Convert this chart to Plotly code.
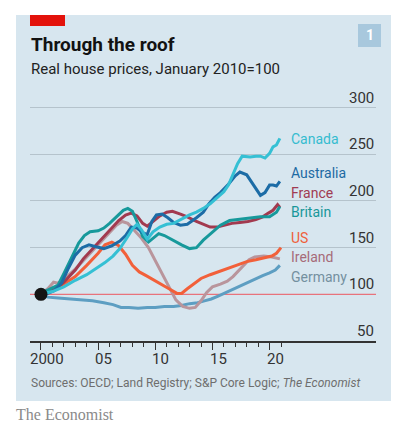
import plotly.graph_objects as go

# ---------------- data ----------------
canada_years = [2000, 2001, 2002, 2003, 2004, 2005, 2005.6, 2006.3, 2006.9, 2007.5, 2008, 2008.4, 2008.8, 2009.3,
                2009.8, 2010.4, 2011, 2011.6, 2012.2, 2013, 2013.6, 2014.2, 2014.8, 2015.4, 2016, 2016.4, 2016.8,
                2017.2, 2017.6, 2018.3, 2018.8, 2019.2, 2019.6, 2020, 2020.3, 2020.6, 2020.9]
canada_values = [100, 103, 108, 115, 121, 129, 134, 141, 149, 160, 170, 175, 169, 159,
                 167, 172, 175, 176, 180, 185, 188, 192, 197, 203, 210, 217, 228,
                 240, 248, 247, 248, 248, 246, 251, 258, 260, 267]

australia_years = [2000, 2000.6, 2001.2, 2001.8, 2002.4, 2003, 2003.6, 2004.2, 2004.8, 2005.5, 2006.2, 2006.9,
                   2007.4, 2007.9, 2008.4, 2008.9, 2009.3, 2009.7, 2010.1, 2010.6, 2011.1, 2011.6, 2012.2, 2012.8,
                   2013.6, 2014.2, 2014.7, 2015.2, 2015.7, 2016.4, 2017.0, 2017.4, 2018, 2018.6, 2019.2, 2019.6,
                   2020, 2020.3, 2020.6, 2020.9]
australia_values = [100, 101, 104, 112, 128, 142, 150, 153, 151, 149, 152, 157,
                    163, 172, 171, 166, 164, 178, 185, 186, 182, 177, 174, 175,
                    182, 188, 197, 204, 209, 218, 227, 231, 228, 217, 206, 209,
                    217, 217, 216, 221]

france_years = [2000, 2000.5, 2001, 2001.5, 2002, 2002.5, 2003, 2003.7, 2004.3, 2005, 2005.6, 2006.2, 2006.8,
                2007.4, 2007.9, 2008.4, 2008.9, 2009.3, 2009.8, 2010.4, 2011, 2011.5, 2012.2, 2012.8, 2013.6,
                2014.2, 2014.8, 2015.4, 2016, 2016.7, 2017.4, 2018.1, 2018.8, 2019.4, 2019.9, 2020.3, 2020.7, 2020.9]
france_values = [100, 101, 104, 108, 113, 119, 126, 138, 146, 155, 163, 171, 179,
                 185, 187, 184, 176, 173, 178, 184, 188, 189, 186, 183, 178,
                 175, 172, 172, 174, 176, 177, 178, 180, 183, 187, 190, 196, 193]

britain_years = [2000, 2000.5, 2001, 2001.5, 2002, 2002.7, 2003.3, 2003.8, 2004.3, 2005, 2005.5, 2006, 2006.6,
                 2007.2, 2007.6, 2008, 2008.4, 2008.9, 2009.4, 2009.8, 2010.3, 2010.8, 2011.5, 2012.3, 2013,
                 2013.6, 2014.2, 2015, 2015.7, 2016.5, 2017.3, 2018, 2019.2, 2020, 2020.6, 2020.9]
britain_values = [100, 104, 107, 110, 122, 140, 155, 163, 167, 168, 171, 176, 183,
                  190, 192, 189, 178, 162, 156, 160, 165, 163, 158, 153, 149,
                  150, 158, 166, 174, 179, 180, 181, 183, 183, 188, 194]

us_years = [2000, 2001, 2002, 2003, 2004, 2005, 2005.6, 2006.2, 2006.8, 2007.4, 2008, 2008.6, 2009.2, 2009.8,
            2010.5, 2011.2, 2011.9, 2012.3, 2012.8, 2013.3, 2014, 2014.8, 2015.5, 2016.4, 2017.2, 2018, 2018.8,
            2019.5, 2020.2, 2020.6, 2021]
us_values = [100, 105, 111, 119, 131, 144, 153, 156, 152, 143, 131, 124, 120, 116,
             111, 106, 101, 101, 106, 111, 117, 121, 124, 128, 132, 135, 137,
             139, 141, 144, 150]

ireland_years = [2000, 2000.6, 2001.1, 2001.5, 2002, 2003, 2004, 2005, 2006, 2006.6, 2007.1, 2007.6, 2008.2,
                 2008.8, 2009.4, 2010, 2010.6, 2011.2, 2011.8, 2012.4, 2013, 2013.5, 2014, 2014.5, 2015, 2015.7,
                 2016.3, 2016.8, 2017.5, 2018.2, 2018.7, 2019.5, 2020.2, 2020.6, 2020.9]
ireland_values = [100, 106, 113, 112, 116, 127, 140, 153, 166, 174, 178, 176, 168,
                  160, 150, 136, 121, 107, 94, 87, 85, 86, 93, 102, 108, 111,
                  114, 119, 128, 137, 140, 141, 140, 139, 138]

germany_years = [2000, 2000.6, 2001.5, 2002.5, 2003.5, 2004.5, 2005.5, 2006.3, 2007, 2007.7, 2008.5, 2009.3,
                 2010, 2010.8, 2011.6, 2012.3, 2013, 2013.7, 2014.3, 2014.9, 2015.5, 2016.2, 2016.8, 2017.5,
                 2018.2, 2018.8, 2019.4, 2020, 2020.5, 2020.9]
germany_values = [100, 97, 96, 95, 94, 93, 91, 89, 86, 86, 85, 86,
                  86, 87, 87, 88, 90, 91, 93, 95, 98, 102, 106, 110,
                  114, 117, 120, 123, 126, 131]

series_names = ["Germany", "Ireland", "US", "France", "Britain", "Australia", "Canada"]
series_years = [germany_years, ireland_years, us_years, france_years, britain_years, australia_years, canada_years]
series_values = [germany_values, ireland_values, us_values, france_values, britain_values, australia_values, canada_values]

# label anchor values (where each country name sits on the right)
label_values = {"Canada": 266, "Australia": 229.6, "France": 208.2, "Britain": 188,
                "US": 160.6, "Ireland": 139.6, "Germany": 118.9}

y_ticks = [50, 100, 150, 200, 250, 300]
x_major = [2000, 2005, 2010, 2015, 2020]
x_labels = ["2000", "05", "10", "15", "20"]
x_minor = list(range(2000, 2022))

# ---------------- styles ----------------
line_colors = {"Canada": "#35c0d4", "Australia": "#1c6ca6", "France": "#a23a4f", "Britain": "#17999b",
               "US": "#f2603a", "Ireland": "#b9959c", "Germany": "#5d9ec2"}
text_colors = {"Canada": "#35bccf", "Australia": "#1d6aa3", "France": "#a03b52", "Britain": "#17979a",
               "US": "#ef5f3c", "Ireland": "#a66b79", "Germany": "#74909f"}

PANEL = "#d7e6ef"
W, H = 403, 442
L, R, T, B = 30, 27, 98, 101
PW, PH = W - L - R, H - T - B


def px_x(px):
    return (px - L) / PW


def px_y(py):
    return (H - B - py) / PH


fig = go.Figure()

for name, xs, ys in zip(series_names, series_years, series_values):
    fig.add_trace(go.Scatter(x=xs, y=ys, mode="lines", name=name,
                             line=dict(color=line_colors[name], width=3),
                             hoverinfo="skip", showlegend=False))

fig.add_trace(go.Scatter(x=[germany_years[0]], y=[germany_values[0]], mode="markers",
                         marker=dict(color="#141414", size=13), hoverinfo="skip", showlegend=False))

shapes = [
    dict(type="rect", xref="paper", yref="paper", x0=px_x(16), x1=px_x(391), y0=px_y(401), y1=px_y(15),
         fillcolor=PANEL, line=dict(width=0), layer="below"),
    dict(type="rect", xref="paper", yref="paper", x0=px_x(30), x1=px_x(65), y0=px_y(26), y1=px_y(15),
         fillcolor="#e3120b", line=dict(width=0), layer="below"),
    dict(type="rect", xref="paper", yref="paper", x0=px_x(358), x1=px_x(381), y0=px_y(47), y1=px_y(24),
         fillcolor="#a8c8dd", line=dict(width=0), layer="below"),
    dict(type="line", xref="paper", yref="y", x0=0, x1=1, y0=100, y1=100,
         line=dict(color="#e8737c", width=1.3), layer="below"),
]

annotations = []
for name in series_names:
    annotations.append(dict(x=2021.7, y=label_values[name], xref="x", yref="y", text=name,
                            showarrow=False, xanchor="left", yanchor="middle",
                            font=dict(family="Roboto", size=14, color=text_colors[name])))

for v in y_ticks:
    annotations.append(dict(x=1, y=v, xref="paper", yref="y", text=str(v), showarrow=False,
                            xanchor="right", yanchor="bottom", yshift=-1,
                            font=dict(family="Roboto", size=15, color="#333333")))

for yr, lab in zip(x_major, x_labels):
    annotations.append(dict(x=yr + 0.5, y=50, xref="x", yref="y", text=lab, showarrow=False,
                            xanchor="center", yanchor="top", yshift=-7,
                            font=dict(family="Roboto", size=15, color="#333333")))

annotations += [
    dict(x=px_x(29), y=px_y(44.5), xref="paper", yref="paper", text="<b>Through the roof</b>",
         showarrow=False, xanchor="left", yanchor="middle",
         font=dict(family="Roboto", size=19, color="#121212")),
    dict(x=px_x(29), y=px_y(69.5), xref="paper", yref="paper", text="Real house prices, January 2010=100",
         showarrow=False, xanchor="left", yanchor="middle",
         font=dict(family="Roboto", size=15, color="#222222")),
    dict(x=px_x(369.5), y=px_y(35.5), xref="paper", yref="paper", text="<b>1</b>",
         showarrow=False, xanchor="center", yanchor="middle",
         font=dict(family="Roboto", size=14, color="#ffffff")),
    dict(x=px_x(29), y=px_y(383), xref="paper", yref="paper",
         text="Sources: OECD; Land Registry; S&P Core Logic; <i>The Economist</i>",
         showarrow=False, xanchor="left", yanchor="middle",
         font=dict(family="Roboto", size=12, color="#6e6e6e")),
    dict(x=px_x(14), y=px_y(414), xref="paper", yref="paper", text="The Economist",
         showarrow=False, xanchor="left", yanchor="middle",
         font=dict(family="Liberation Serif", size=16, color="#8a8a8a")),
]

fig.update_layout(
    width=W, height=H,
    margin=dict(l=L, r=R, t=T, b=B, pad=0),
    paper_bgcolor="#ffffff",
    plot_bgcolor="rgba(0,0,0,0)",
    shapes=shapes,
    annotations=annotations,
    showlegend=False,
    xaxis=dict(range=[1999.04, 2029.31], showgrid=False, zeroline=False,
               showline=True, linecolor="#333333", linewidth=1.5,
               tickmode="array", tickvals=x_major, ticks="outside", ticklen=7, tickwidth=1,
               tickcolor="#333333", showticklabels=False,
               minor=dict(tickmode="array", tickvals=x_minor, ticks="outside", ticklen=4,
                          tickwidth=1, tickcolor="#333333", showgrid=False)),
    yaxis=dict(range=[50, 310.3], showgrid=True, gridcolor="#b5c3cc", gridwidth=1.3,
               tickmode="array", tickvals=[150, 200, 250, 300], showticklabels=False,
               zeroline=False, showline=False, ticks=""),
)

fig.write_html("out.html")
